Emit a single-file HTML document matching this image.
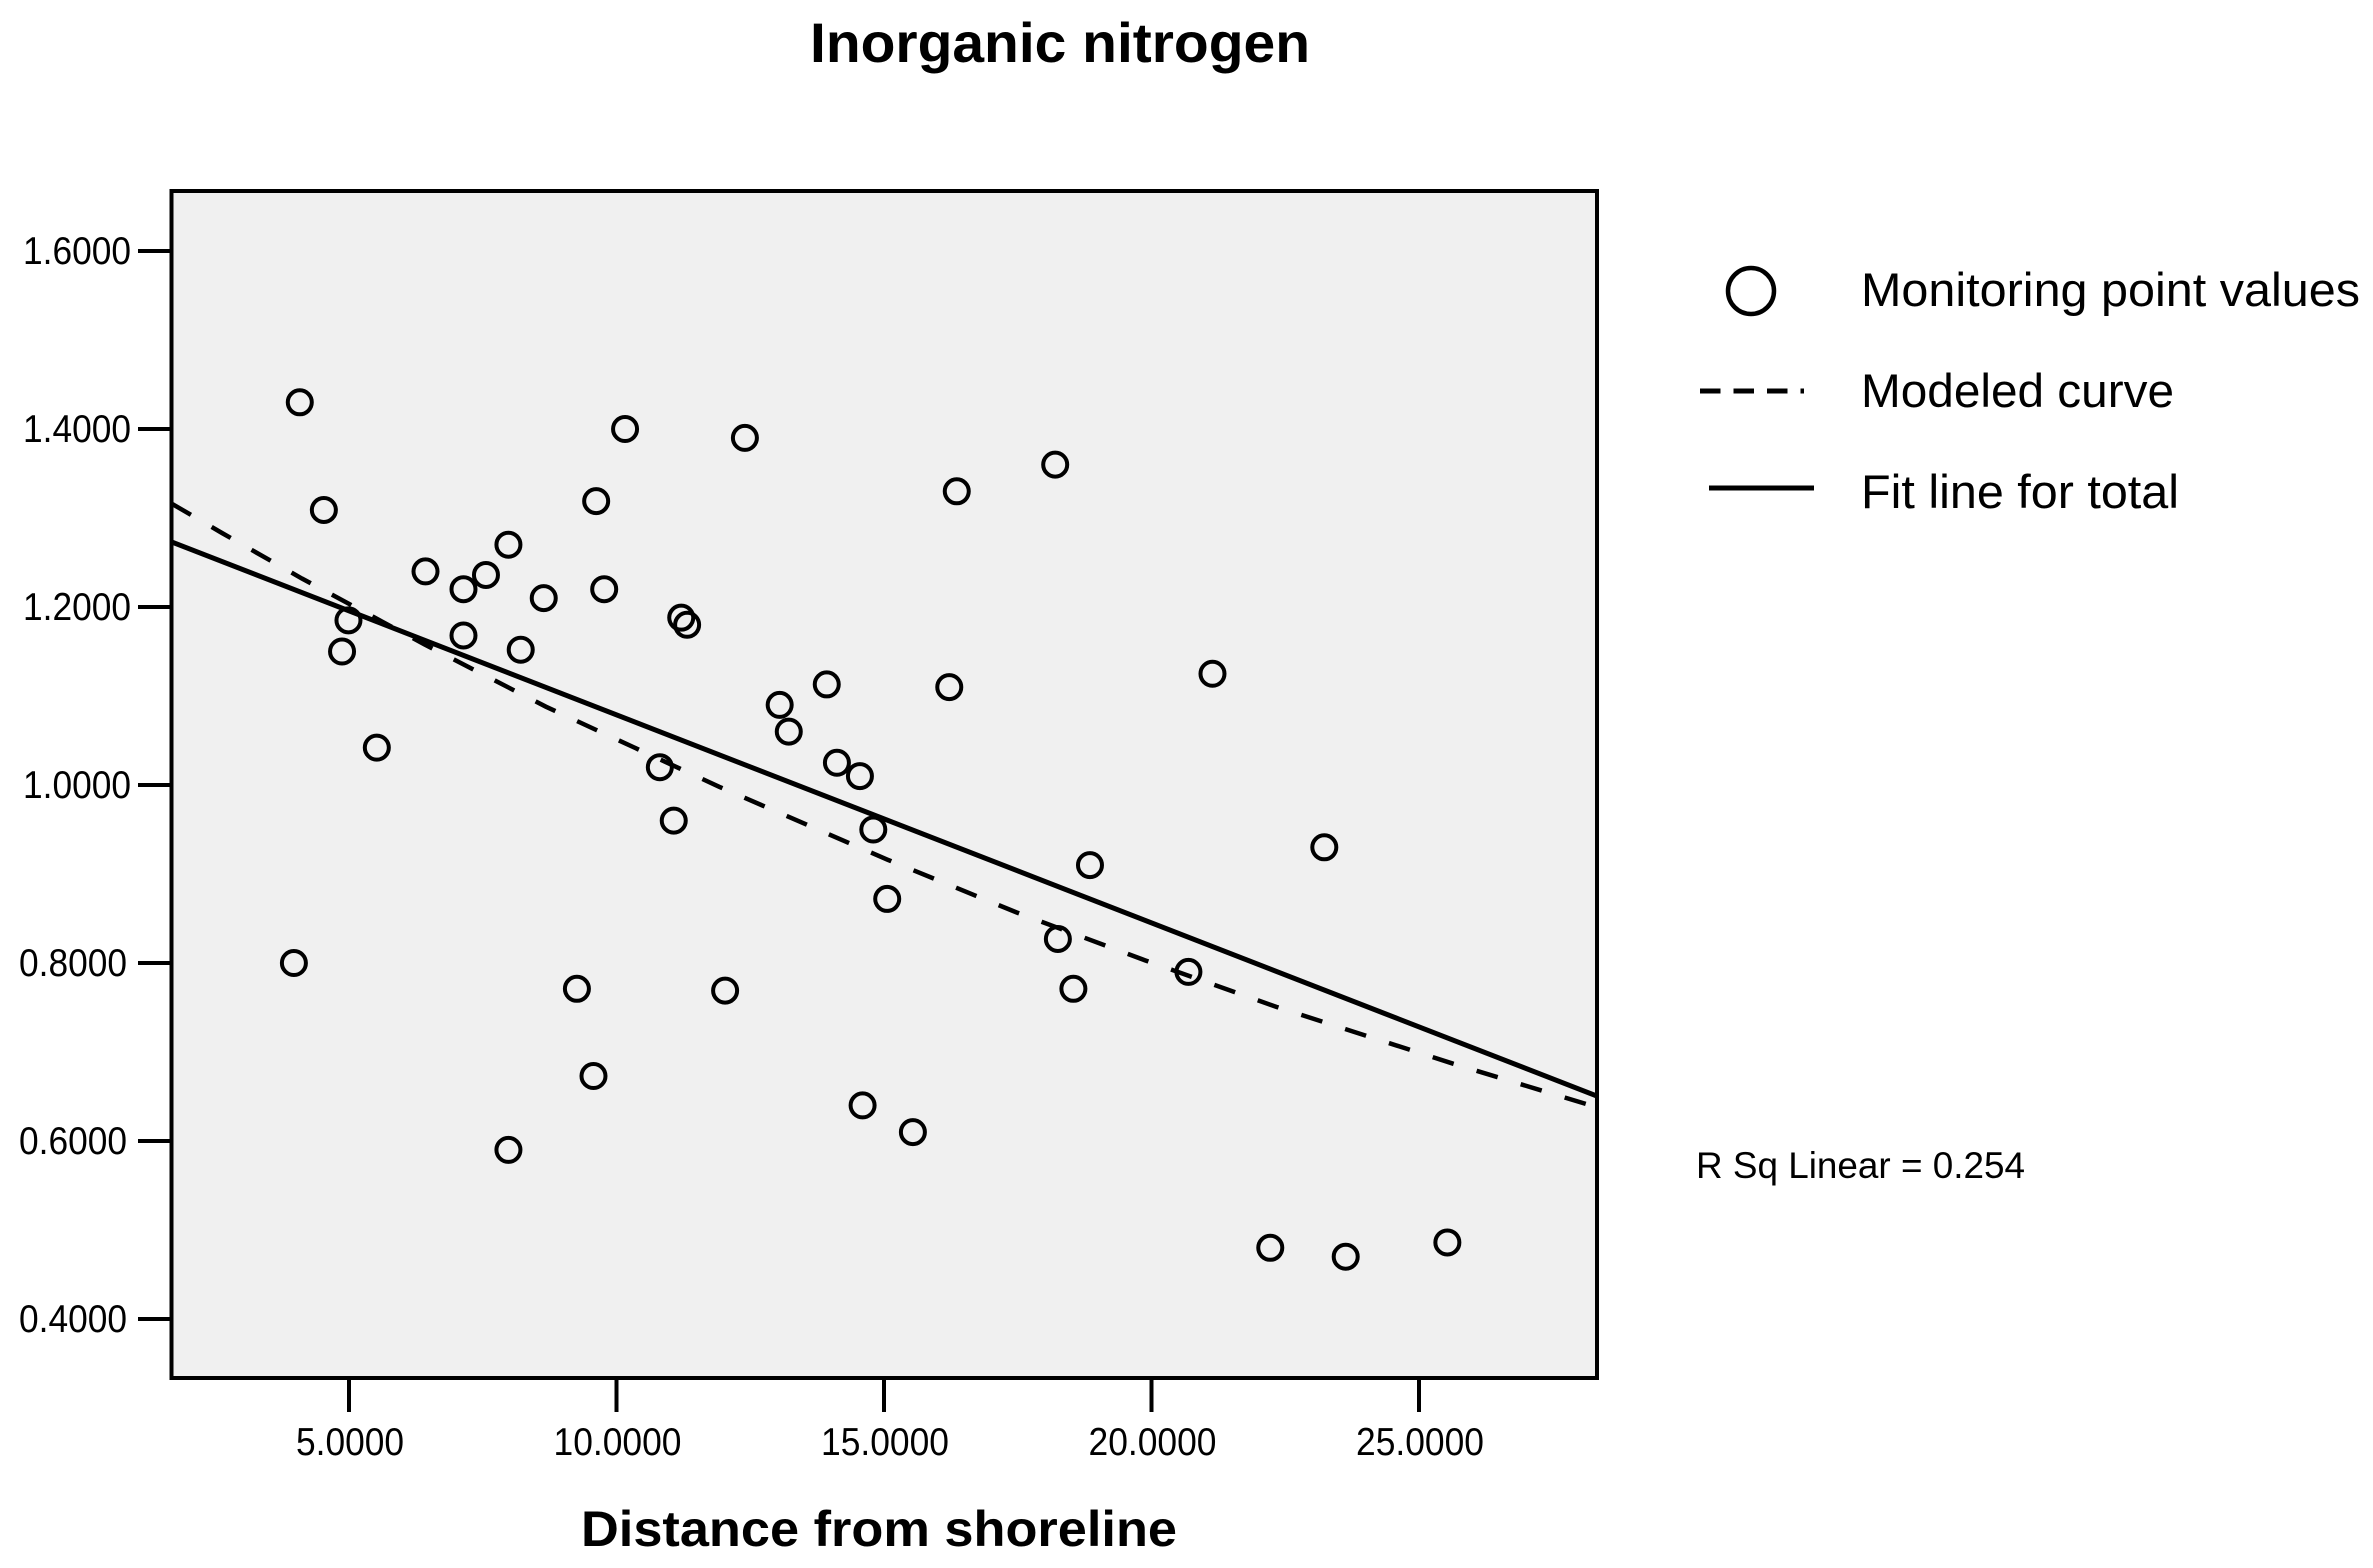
<!DOCTYPE html>
<html lang="en">
<head>
<meta charset="utf-8">
<title>Inorganic nitrogen</title>
<style>
html,body{margin:0;padding:0;background:#fff;}
svg{display:block;}
text{font-family:"Liberation Sans",sans-serif;fill:#000;}
</style>
</head>
<body>
<svg id="chart" xmlns="http://www.w3.org/2000/svg" width="2373" height="1568" viewBox="0 0 2373 1568">
  <rect x="0" y="0" width="2373" height="1568" fill="#ffffff"/>
  <text x="810" y="62" font-size="56" font-weight="bold" textLength="500" lengthAdjust="spacingAndGlyphs">Inorganic nitrogen</text>
  <rect id="plot-area" x="171.5" y="191" width="1425.5" height="1187" fill="#f0f0f0"/>
  <g id="ticks"></g>
  <g id="series"></g>
  <rect x="171.5" y="191" width="1425.5" height="1187" fill="none" stroke="#000" stroke-width="4"/>
  <text x="581" y="1546" font-size="50" font-weight="bold" textLength="596" lengthAdjust="spacingAndGlyphs">Distance from shoreline</text>

  <g>
    <circle cx="1751" cy="291" r="23" fill="none" stroke="#000" stroke-width="4.5"/>
    <text x="1861" y="306" font-size="47" textLength="499" lengthAdjust="spacingAndGlyphs">Monitoring point values</text>
    <line x1="1700" y1="391" x2="1804" y2="391" stroke="#000" stroke-width="5" stroke-dasharray="20.5 13"/>
    <text x="1861" y="407" font-size="47" textLength="313" lengthAdjust="spacingAndGlyphs">Modeled curve</text>
    <line x1="1709" y1="488" x2="1814" y2="488" stroke="#000" stroke-width="5"/>
    <text x="1861" y="508" font-size="47" textLength="318" lengthAdjust="spacingAndGlyphs">Fit line for total</text>
  </g>
  <text x="1696" y="1178" font-size="37" fill="#111" textLength="329" lengthAdjust="spacingAndGlyphs">R Sq Linear = 0.254</text>
</svg>
<script>
const xTicks = [5, 10, 15, 20, 25];
const xTickLabels = ["5.0000", "10.0000", "15.0000", "20.0000", "25.0000"];
const yTicks = [1.6, 1.4, 1.2, 1.0, 0.8, 0.6, 0.4];
const yTickLabels = ["1.6000", "1.4000", "1.2000", "1.0000", "0.8000", "0.6000", "0.4000"];

const pointX = [4.08, 4.53, 4.99, 4.87, 5.52, 3.97, 6.43, 7.14, 7.14, 7.56, 7.98, 8.21, 8.64, 9.62, 9.77, 10.16, 9.26, 9.57, 7.98, 11.21, 11.32, 10.81, 11.07, 12.4, 12.03, 13.05, 13.22, 13.93, 14.12, 14.55, 14.8, 15.06, 14.6, 15.54, 16.22, 16.36, 18.2, 18.25, 18.54, 18.85, 20.69, 21.14, 22.22, 23.63, 23.23, 25.53];
const pointY = [1.43, 1.309, 1.185, 1.15, 1.042, 0.80, 1.24, 1.22, 1.168, 1.236, 1.27, 1.152, 1.21, 1.319, 1.22, 1.40, 0.771, 0.673, 0.59, 1.188, 1.18, 1.02, 0.96, 1.39, 0.769, 1.09, 1.06, 1.113, 1.025, 1.01, 0.95, 0.872, 0.64, 0.61, 1.11, 1.33, 1.36, 0.827, 0.771, 0.91, 0.79, 1.125, 0.48, 0.47, 0.93, 0.486];

const fitX = [1.69, 28.32];
const fitY = [1.273, 0.6506];

const curveX = [1.69, 2.63, 4.12, 6.41, 8.68, 11.92, 15.07, 17.47, 19.88, 22.34, 25.63, 28.32];
const curveY = [1.316, 1.283, 1.232, 1.158, 1.088, 0.998, 0.916, 0.857, 0.803, 0.7506, 0.687, 0.638];

const NS = "http://www.w3.org/2000/svg";
const xPos = v => 349 + (v - 5) * 53.5;
const yPos = v => 251 + (1.6 - v) * 890;
const ticksLayer = document.getElementById("ticks");
const seriesLayer = document.getElementById("series");

xTicks.forEach((v, i) => {
  const t = document.createElementNS(NS, "line");
  
  
  t.setAttribute("x1", xPos(v));
  t.setAttribute("x2", xPos(v));
  t.setAttribute("y1", 1378);
  t.setAttribute("y2", 1412);
  t.setAttribute("stroke", "#000");
  t.setAttribute("stroke-width", 4);
  ticksLayer.appendChild(t);
  const l = document.createElementNS(NS, "text");
  
  
  l.setAttribute("x", xPos(v) + 1);
  l.setAttribute("y", 1455);
  l.setAttribute("font-size", 39);
  l.setAttribute("text-anchor", "middle");
  l.setAttribute("fill", "#111");
  l.setAttribute("textLength", xTickLabels[i].length === 6 ? 108 : 128);
  l.setAttribute("lengthAdjust", "spacingAndGlyphs");
  l.textContent = xTickLabels[i];
  ticksLayer.appendChild(l);
});

yTicks.forEach((v, i) => {
  const t = document.createElementNS(NS, "line");
  
  
  t.setAttribute("x1", 138);
  t.setAttribute("x2", 171);
  t.setAttribute("y1", yPos(v));
  t.setAttribute("y2", yPos(v));
  t.setAttribute("stroke", "#000");
  t.setAttribute("stroke-width", 4);
  ticksLayer.appendChild(t);
  const l = document.createElementNS(NS, "text");
  
  
  l.setAttribute("x", v >= 1 ? 131 : 127);
  l.setAttribute("y", yPos(v) + 13);
  l.setAttribute("font-size", 39);
  l.setAttribute("text-anchor", "end");
  l.setAttribute("fill", "#111");
  l.setAttribute("textLength", 108);
  l.setAttribute("lengthAdjust", "spacingAndGlyphs");
  l.textContent = yTickLabels[i];
  ticksLayer.appendChild(l);
});

const toPoints = (xs, ys) => xs.map((x, i) => xPos(x) + "," + yPos(ys[i])).join(" ");

const curve = document.createElementNS(NS, "polyline");


curve.setAttribute("points", toPoints(curveX, curveY));
curve.setAttribute("fill", "none");
curve.setAttribute("stroke", "#000");
curve.setAttribute("stroke-width", 4.5);
curve.setAttribute("stroke-dasharray", "22 24");
seriesLayer.appendChild(curve);

const fit = document.createElementNS(NS, "polyline");


fit.setAttribute("points", toPoints(fitX, fitY));
fit.setAttribute("fill", "none");
fit.setAttribute("stroke", "#000");
fit.setAttribute("stroke-width", 5);
seriesLayer.appendChild(fit);

pointX.forEach((x, i) => {
  const c = document.createElementNS(NS, "circle");
  
  
  c.setAttribute("cx", xPos(x));
  c.setAttribute("cy", yPos(pointY[i]));
  c.setAttribute("r", 12);
  c.setAttribute("fill", "none");
  c.setAttribute("stroke", "#000");
  c.setAttribute("stroke-width", 4);
  seriesLayer.appendChild(c);
});
</script>
</body>
</html>
